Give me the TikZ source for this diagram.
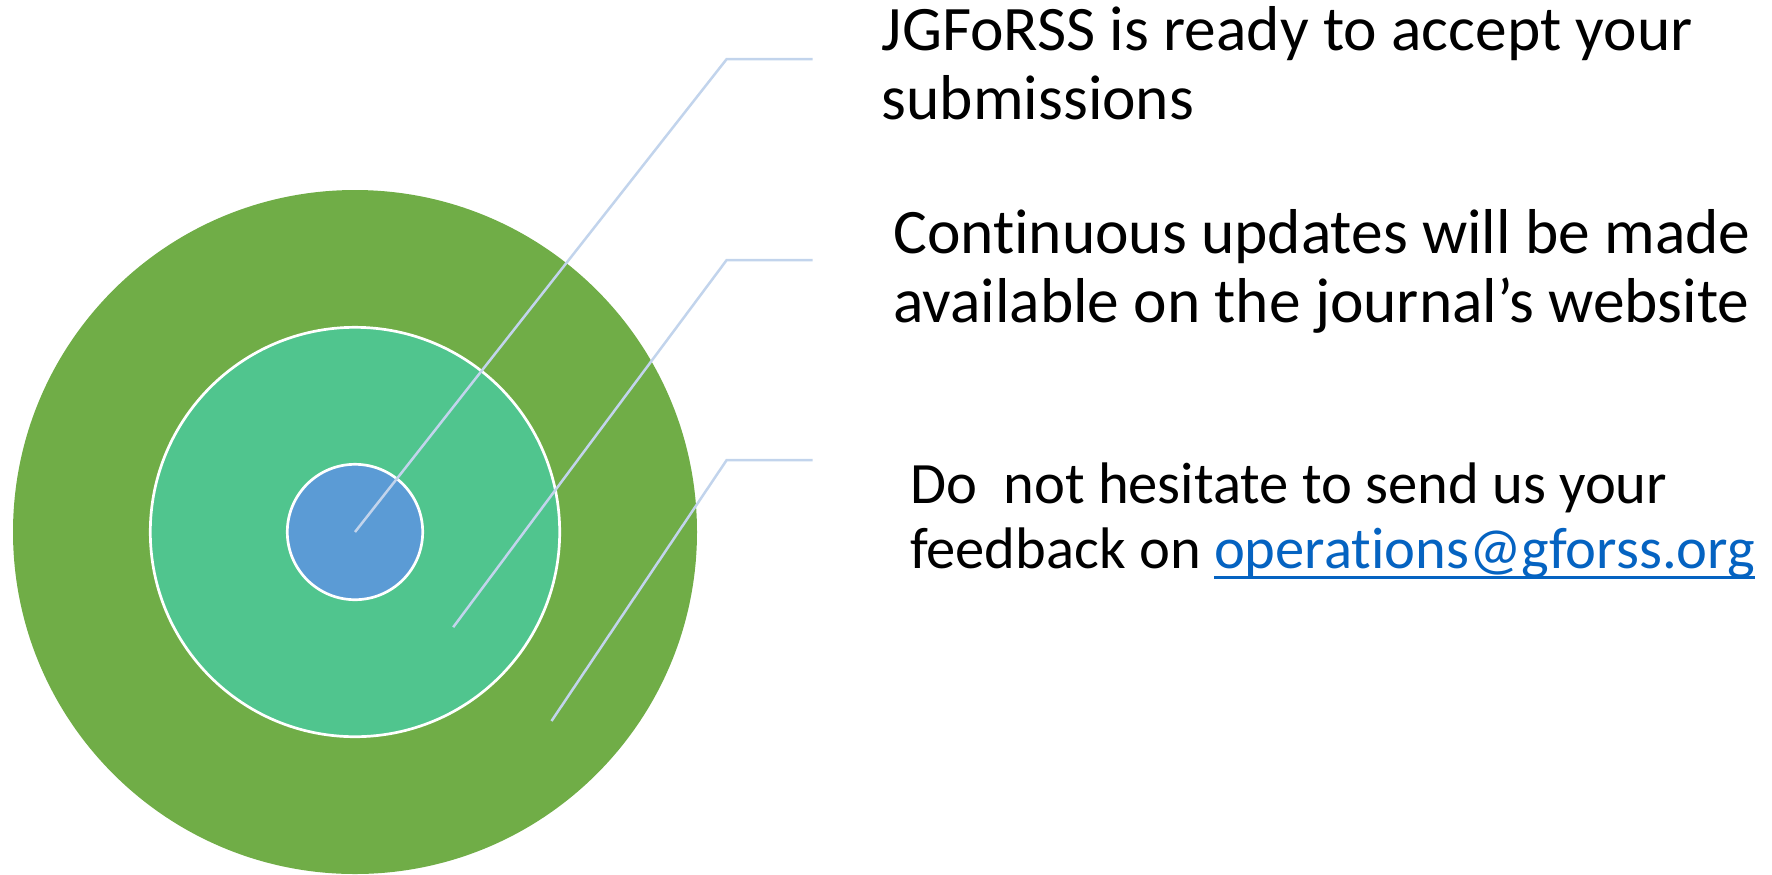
\documentclass[tikz,border=0pt]{standalone}
\usepackage{fontspec}
\setmainfont{Carlito}[Ligatures=NoCommon]
\usetikzlibrary{calc}
\definecolor{outgreen}{RGB}{112,173,71}
\definecolor{midgreen}{RGB}{80,197,142}
\definecolor{coreblue}{RGB}{91,155,213}
\definecolor{leadblue}{RGB}{194,212,236}
\definecolor{linkblue}{RGB}{5,99,193}
\newsavebox{\mailbox}
\newcommand{\ulined}[1]{\sbox{\mailbox}{#1}\rlap{\usebox{\mailbox}}\rule[-5.5pt]{\wd\mailbox}{1.3pt}}
\tikzstyle{outring}=[circle,fill=outgreen,inner sep=0pt,minimum size=342pt]
\tikzstyle{midring}=[circle,draw=white,line width=1.35pt,fill=midgreen,inner sep=0pt,minimum size=204.7pt]
\tikzstyle{core}=[circle,draw=white,line width=1.35pt,fill=coreblue,inner sep=0pt,minimum size=67.7pt]
\tikzstyle{leader}=[draw=leadblue,line width=1.25pt]
\tikzstyle{note}=[anchor=base west,align=left,inner sep=0pt,font=\fontsize{31.7}{34.5}\selectfont]

\begin{document}
\begin{tikzpicture}[x=0.5pt,y=-0.5pt]
		\useasboundingbox (0,0) rectangle (1772,874);
		\node[outring] (out) at (355,532) {};
		\node[midring] (mid) at (355,532) {};
		\node[core] (c) at (355,532) {};
		% leader lines
		\coordinate (s2) at (453.2,627.2);
		\coordinate (s3) at (551.5,721);
		\coordinate (b1) at (726.7,59);
		\coordinate (b2) at (726.7,260);
		\coordinate (b3) at (726.7,460);
		\coordinate (e1) at (812.5,59);
		\coordinate (e2) at (812.5,260);
		\coordinate (e3) at (812.5,460);
		\draw[leader] (c.center)--(b1)--(e1);
		\draw[leader] (s2)--(b2)--(e2);
		\draw[leader] (s3)--(b3)--(e3);
		% texts (anchored on last line)
		\node[note] (t1) at (881.5,119) {JGFoRSS is ready to accept your\\submissions};
		\node[note] (t2) at (892.8,322) {Continuous updates will be made\\available on the journal’s website};
		\node[note,font=\fontsize{29.3}{32.5}\selectfont] (t3) at (909.7,568) {Do~ not hesitate to send us your\\feedback on {\color{linkblue}\ulined{operations@gforss.org}}};
	\end{tikzpicture}
\end{document}
